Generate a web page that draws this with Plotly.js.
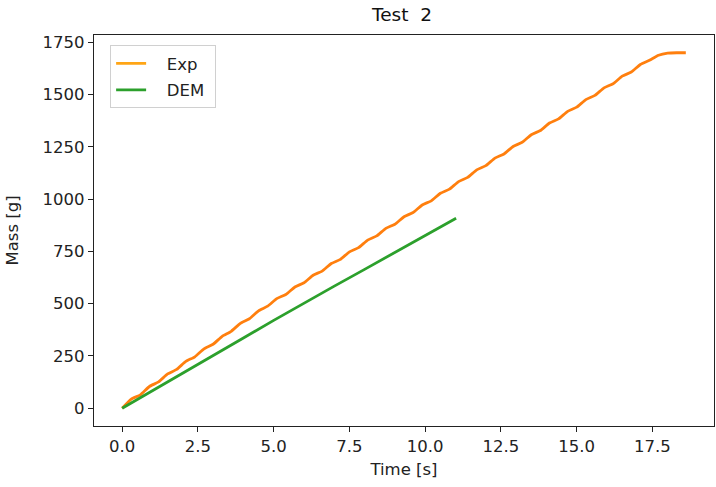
<!DOCTYPE html>
<html>
<head>
<meta charset="utf-8">
<script src="https://cdn.plot.ly/plotly-3.0.1.min.js"></script>
<style>html,body{margin:0;padding:0;background:#fff;}#chart{width:716px;height:487px;}</style>
</head>
<body>
<div id="chart"></div>
<script>
// Experimental mass curve (Test 2)
const expTime = [0,0.3,0.6,0.9,1.2,1.5,1.8,2.1,2.4,2.7,3.0,3.3,3.6,3.9,4.2,4.5,4.8,5.1,5.4,5.7,6.0,6.3,6.6,6.9,7.2,7.5,7.8,8.1,8.4,8.7,9.0,9.3,9.6,9.9,10.2,10.5,10.8,11.1,11.4,11.7,12.0,12.3,12.6,12.9,13.2,13.5,13.8,14.1,14.4,14.7,15.0,15.3,15.6,15.9,16.2,16.5,16.8,17.1,17.4,17.7,18.0,18.3,18.6];
const expMass = [0,44,64,104,126,164,186,224,246,284,306,344,368,406,428,466,488,524,544,580,600,636,656,692,712,748,768,804,824,860,880,916,936,972,992,1028,1048,1084,1104,1140,1160,1196,1216,1252,1272,1308,1328,1364,1384,1420,1440,1476,1496,1532,1552,1588,1608,1644,1664,1688,1698,1700,1700];
// DEM simulation mass curve
const demTime = [0,1,2,3,4,5,6,7,8,9,10,11.02];
const demMass = [0,85,170,253,336,420,503,584,664,745,826,909];
// Axis ticks
const xTicks = [0,2.5,5,7.5,10,12.5,15,17.5];
const yTicks = [0,250,500,750,1000,1250,1500,1750];

const font = {family: 'DejaVu Sans, sans-serif', size: 16.5, color: '#222'};

const traces = [
  {x: expTime, y: expMass, type: 'scatter', mode: 'lines', name: 'Exp', showlegend: false,
   line: {color: '#ff7f0e', width: 2.8, shape: 'spline', smoothing: 0.5}},
  {x: [null], y: [null], type: 'scatter', mode: 'lines', name: '&nbsp;&nbsp;&nbsp;Exp', legendgroup: 'a',
   line: {color: '#ffa515', width: 2.8}},
  {x: demTime, y: demMass, type: 'scatter', mode: 'lines', name: '&nbsp;&nbsp;&nbsp;DEM&nbsp;', legendgroup: 'b',
   line: {color: '#2ca02c', width: 2.8}}
];

const layout = {
  width: 716, height: 487,
  margin: {l: 94, r: 2, t: 35, b: 61},
  paper_bgcolor: '#fff', plot_bgcolor: '#fff',
  font: font,
  title: {text: 'Test &nbsp;2', font: {family: 'DejaVu Sans, sans-serif', size: 18.5, color: '#111'},
          x: 402/716, xanchor: 'center', y: 1 - 15/487, yanchor: 'middle'},
  xaxis: {
    range: [-0.93, 19.53], tickvals: xTicks, tickformat: '.1f',
    showgrid: false, zeroline: false, showline: true, mirror: true,
    linecolor: '#222', linewidth: 1.2, ticks: 'outside', ticklen: 5, tickcolor: '#222',
    tickfont: font,
    title: {text: 'Time [s]', font: font, standoff: 8}
  },
  yaxis: {
    range: [-85, 1785], tickvals: yTicks,
    showgrid: false, zeroline: false, showline: true, mirror: true,
    linecolor: '#222', linewidth: 1.2, ticks: 'outside', ticklen: 5, tickcolor: '#222',
    tickfont: font,
    title: {text: 'Mass [g]', font: font, standoff: 19}
  },
  legend: {
    x: 0.026, y: 0.974, xanchor: 'left', yanchor: 'top',
    bgcolor: '#fff', bordercolor: '#d0d0d0', borderwidth: 1,
    font: font, tracegroupgap: 2
  },
  showlegend: true
};

Plotly.newPlot('chart', traces, layout, {displayModeBar: false, staticPlot: true});
</script>
</body>
</html>
